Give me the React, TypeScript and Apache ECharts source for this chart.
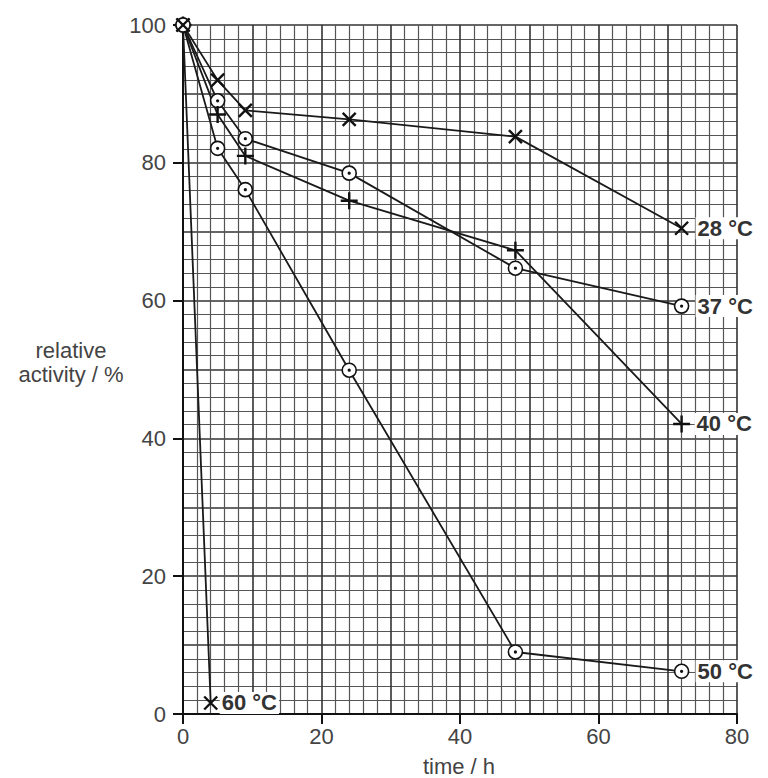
import React, { useEffect, useRef } from "react";
import * as echarts from "echarts";

const times = [0, 5, 9, 24, 48, 72];
const activity28 = [100, 92, 87.6, 86.3, 83.8, 70.5];
const activity37 = [100, 89, 83.5, 78.5, 64.7, 59.2];
const activity40 = [100, 87, 81, 74.5, 67.3, 42.1];
const activity50 = [100, 82.1, 76.1, 49.9, 9, 6.2];
const times60 = [0, 4];
const activity60 = [100, 1.6];

const xTicks = [0, 20, 40, 60, 80];
const yTicks = [0, 20, 40, 60, 80, 100];

const seriesLabels = ["28 °C", "37 °C", "40 °C", "50 °C", "60 °C"];

const CROSS = "path://M0,0L10,10M10,0L0,10";
const PLUS = "path://M5,0L5,10M0,5L10,5";
const ODOT =
  "path://M0,5A5,5,0,1,1,10,5A5,5,0,1,1,0,5ZM4.4,5A0.6,0.6,0,1,1,5.6,5A0.6,0.6,0,1,1,4.4,5Z";

const FONT = "Liberation Sans";

function pair(xs: number[], ys: number[]) {
  return xs.map((x, i) => [x, ys[i]]);
}

function makeSeries(
  name: string,
  data: number[][],
  symbol: string,
  size: number,
  fill: string,
  labelDist: number
) {
  return {
    type: "line",
    name,
    data,
    symbol,
    symbolSize: size,
    showAllSymbol: true,
    lineStyle: { color: "#1a1a1a", width: 1.8 },
    itemStyle: { color: fill, borderColor: "#111", borderWidth: fill === "#fff" ? 1.6 : 2.4 },
    emphasis: { disabled: true },
    z: 5,
    endLabel: {
      show: true,
      formatter: name,
      distance: labelDist,
      fontFamily: FONT,
      fontSize: 22,
      fontWeight: "bold",
      color: "#333",
      backgroundColor: "#fff",
      padding: [0, 2, 0, 2],
    },
  };
}

export default function App() {
  const ref = useRef<HTMLDivElement>(null);
  useEffect(() => {
    if (!ref.current) return;
    const chart = echarts.init(ref.current, undefined, { renderer: "svg" });
    const labelStyle = { fontFamily: FONT, fontSize: 22, color: "#444" };
    const titleStyle = { fontFamily: FONT, fontSize: 22, fill: "#444", align: "center", verticalAlign: "middle" };
    chart.setOption({
      animation: false,
      backgroundColor: "#fff",
      grid: { left: 183, right: 31, top: 25, bottom: 64 },
      xAxis: [
        {
          type: "value",
          min: 0,
          max: 80,
          interval: 20,
          axisLine: { show: true, onZero: false, lineStyle: { color: "#111", width: 2 } },
          axisTick: { show: true, length: 10, lineStyle: { color: "#111", width: 2 } },
          axisLabel: {
            ...labelStyle,
            margin: 11,
            formatter: (v: number) => (xTicks.includes(v) ? String(v) : ""),
          },
          splitLine: { show: false },
          z: 4,
        },
        {
          type: "value",
          min: 0,
          max: 80,
          interval: 10,
          position: "top",
          axisLine: { show: false },
          axisTick: { show: false },
          axisLabel: { show: false },
          splitLine: { show: true, lineStyle: { color: "#333", width: 1.6 } },
          minorTick: { show: false, splitNumber: 5 },
          minorSplitLine: { show: true, lineStyle: { color: "#555", width: 1.2 } },
        },
      ],
      yAxis: [
        {
          type: "value",
          min: 0,
          max: 100,
          interval: 20,
          axisLine: { show: true, onZero: false, lineStyle: { color: "#111", width: 2 } },
          axisTick: { show: true, length: 10, lineStyle: { color: "#111", width: 2 } },
          axisLabel: {
            ...labelStyle,
            margin: 17,
            formatter: (v: number) => (yTicks.includes(v) ? String(v) : ""),
          },
          splitLine: { show: false },
          z: 4,
        },
        {
          type: "value",
          min: 0,
          max: 100,
          interval: 10,
          position: "right",
          axisLine: { show: false },
          axisTick: { show: false },
          axisLabel: { show: false },
          splitLine: { show: true, lineStyle: { color: "#333", width: 1.6 } },
          minorTick: { show: false, splitNumber: 5 },
          minorSplitLine: { show: true, lineStyle: { color: "#555", width: 1.2 } },
        },
      ],
      graphic: [
        { type: "text", x: 71, y: 350, style: { ...titleStyle, text: "relative" } },
        { type: "text", x: 71, y: 374, style: { ...titleStyle, text: "activity / %" } },
        { type: "text", x: 459, y: 766, style: { ...titleStyle, text: "time / h" } },
      ],
      series: [
        makeSeries(seriesLabels[0], pair(times, activity28), CROSS, 13, "#111", 14),
        makeSeries(seriesLabels[1], pair(times, activity37), ODOT, 14, "#fff", 14),
        makeSeries(seriesLabels[2], pair(times, activity40), PLUS, 17, "#111", 13),
        makeSeries(seriesLabels[3], pair(times, activity50), ODOT, 14, "#fff", 14),
        makeSeries(seriesLabels[4], pair(times60, activity60), CROSS, 13, "#111", 9),
      ],
    });
    return () => chart.dispose();
  }, []);
  return (
    <div
      ref={ref}
      style={{ position: "fixed", left: 0, top: 0, width: 768, height: 778, background: "#fff" }}
    />
  );
}
